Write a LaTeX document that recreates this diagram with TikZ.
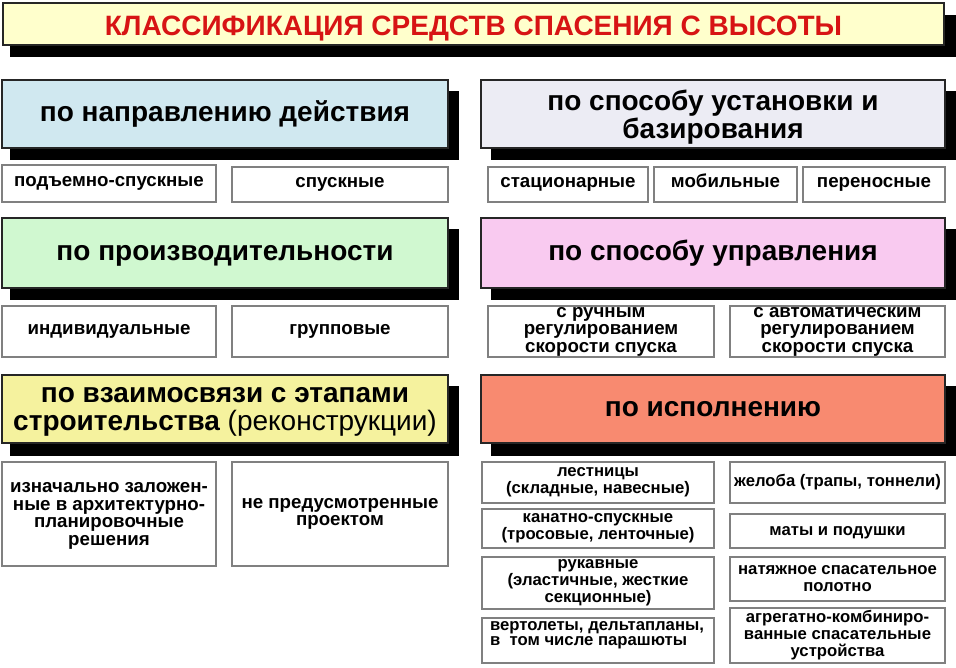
\documentclass[tikz,border=0pt]{standalone}
\usepackage{fontspec}
\setmainfont{Liberation Sans}
\definecolor{titlefill}{RGB}{255,255,204}
\definecolor{titlered}{RGB}{215,20,20}
\definecolor{cblue}{RGB}{208,232,240}
\definecolor{clav}{RGB}{236,236,244}
\definecolor{cgreen}{RGB}{208,248,208}
\definecolor{cpink}{RGB}{249,202,240}
\definecolor{cyellow}{RGB}{245,242,158}
\definecolor{csalmon}{RGB}{248,138,112}
\tikzset{
  shad/.style={fill=black},
  titlebox/.style={draw=black!85, line width=2pt, fill=titlefill, inner sep=0pt, text=titlered,
    font=\fontsize{28}{28}\selectfont\bfseries, text height=22pt, text depth=0pt},
  cat/.style={draw=black!85, line width=2pt, inner sep=0pt, align=center,
    font=\fontsize{28}{28}\selectfont\bfseries},
  sub/.style={draw=black!50, line width=1.5pt, fill=white, inner sep=0pt, align=center,
    font=\fontsize{18.7}{17.5}\selectfont\bfseries},
  subs/.style={sub, font=\fontsize{16.7}{17}\selectfont\bfseries},
  onecat/.style={text height=17pt, text depth=2.4pt},
  onesub/.style={text height=10pt, text depth=3.3pt},
  onesubs/.style={text height=11pt, text depth=2.3pt},
  plain/.style={inner sep=0pt, align=left, font=\fontsize{16.7}{15.5}\selectfont\bfseries}
}
\newcommand\mystrut[1]{\rule{0pt}{#1}}
% style, name, x1, y1, x2, y2, text
\newcommand\mybox[7]{%
  \pgfmathsetmacro\myboxw{#5-#3}\pgfmathsetmacro\myboxh{#6-#4}%
  \pgfmathsetmacro\myboxcx{(#3+#5)/2}\pgfmathsetmacro\myboxcy{(#4+#6)/2}%
  \node[#1, minimum width=\myboxw pt, minimum height=\myboxh pt] (#2) at (\myboxcx,\myboxcy) {#7};}
\begin{document}
\begin{tikzpicture}[x=1pt,y=-1pt]
\useasboundingbox (0,0) rectangle (956,667);
% title
\fill[shad] (10,15) rectangle (956,57);
\mybox{titlebox}{title}{3}{3}{944}{45}{КЛАССИФИКАЦИЯ СРЕДСТВ СПАСЕНИЯ С ВЫСОТЫ}
% shadows of category boxes
\fill[shad] (10,91) rectangle (459,160);
\fill[shad] (10,229) rectangle (459,300);
\fill[shad] (10,386) rectangle (459,456);
\fill[shad] (491,91) rectangle (956,160);
\fill[shad] (491,229) rectangle (956,300);
\fill[shad] (491,386) rectangle (956,456);
% left column
\mybox{cat, onecat, fill=cblue}{c1}{2}{80}{448}{148}{по направлению действия}
\mybox{sub, onesub}{s11}{2}{165}{216}{202}{подъемно-спускные}
\mybox{sub, onesub}{s12}{232}{167}{448}{202}{спускные}
\mybox{cat, onecat, fill=cgreen}{c2}{2}{218}{448}{288}{по производительности}
\mybox{sub, onesub}{s21}{2}{306}{216}{357}{индивидуальные}
\mybox{sub, onesub}{s22}{232}{306}{448}{357}{групповые}
\mybox{cat, fill=cyellow}{c3}{2}{375}{448}{443}{\mystrut{20pt}по взаимосвязи с этапами\\строительства {\mdseries(реконструкции)}}
\mybox{sub}{s31}{2}{462}{216}{566}{\mystrut{14pt}изначально заложен-\\ные в архитектурно-\\планировочные\\решения}
\mybox{sub}{s32}{232}{462}{448}{566}{не предусмотренные\\проектом}
% right column
\mybox{cat, fill=clav}{c4}{481}{80}{945}{148}{\mystrut{27pt}по способу установки и\\базирования}
\mybox{sub, onesub}{s41}{488}{167}{648}{202}{стационарные}
\mybox{sub, onesub}{s42}{654}{167}{797}{202}{мобильные}
\mybox{sub, onesub}{s43}{803}{167}{945}{202}{переносные}
\mybox{cat, onecat, fill=cpink}{c5}{481}{218}{945}{288}{по способу управления}
\mybox{sub}{s51}{488}{306}{714}{357}{с ручным\\регулированием\\скорости спуска}
\mybox{sub}{s52}{730}{306}{945}{357}{с автоматическим\\регулированием\\скорости спуска}
\mybox{cat, onecat, fill=csalmon}{c6}{481}{375}{945}{443}{по исполнению}
\mybox{subs}{s61}{482}{462}{714}{503}{лестницы\\(складные, навесные)}
\mybox{subs}{s62}{482}{509}{714}{548}{канатно-спускные\\(тросовые, ленточные)}
\mybox{subs}{s63}{482}{557}{714}{609}{рукавные\\(эластичные, жесткие\\секционные)}
\mybox{subs}{s64}{482}{618}{714}{663}{}
\node[plain] (s64t) at (597,635) {вертолеты, дельтапланы,\\в\ \ том числе парашюты};
\mybox{subs, onesubs}{s71}{730}{462}{945}{503}{желоба (трапы, тоннели)}
\mybox{subs, onesubs}{s72}{730}{514}{945}{548}{маты и подушки}
\mybox{subs}{s73}{730}{557}{945}{601}{натяжное спасательное\\полотно}
\mybox{subs}{s74}{730}{608}{945}{663}{агрегатно-комбиниро-\\ванные спасательные\\устройства}
\end{tikzpicture}
\end{document}
